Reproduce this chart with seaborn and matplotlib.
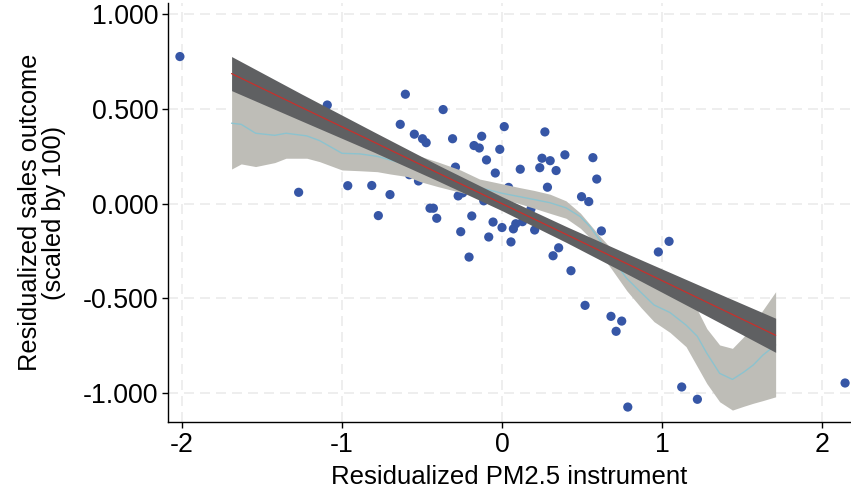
import numpy as np
import pandas as pd
import matplotlib
matplotlib.use("Agg")
import matplotlib.pyplot as plt
import seaborn as sns

# Residualized instrument (x) and residualized sales (y), one point per unit
pm25_resid = [
    -2.013, -1.092, -1.271, -0.964, -0.814, -0.700, -0.773, -0.604, -0.636, -0.548,
    -0.497, -0.474, -0.368, -0.309, -0.175, -0.142, -0.127, -0.097, -0.014, 0.014,
    -0.042, -0.291, -0.274, -0.246, -0.114, -0.579, -0.522, -0.450, -0.429, -0.408,
    -0.189, -0.056, -0.258, 0.000, -0.083, -0.206, 0.056, 0.268, 0.250, 0.301,
    0.393, 0.568, 0.114, 0.236, 0.338, 0.592, 0.284, 0.497, 0.542, 0.041,
    0.086, 0.071, 0.128, 0.204, 0.319, 0.354, 0.621, 0.977, 1.044, 0.431,
    0.519, 0.681, 0.748, 0.713, 1.123, 1.221, 0.786, 2.144, 0.181,
]
sales_resid = [
    0.777, 0.521, 0.060, 0.095, 0.096, 0.048, -0.063, 0.578, 0.419, 0.367,
    0.343, 0.322, 0.497, 0.343, 0.307, 0.294, 0.356, 0.231, 0.287, 0.407,
    0.162, 0.193, 0.041, 0.057, 0.015, 0.153, 0.120, -0.024, -0.024, -0.077,
    -0.065, -0.097, -0.148, -0.126, -0.176, -0.282, -0.202, 0.379, 0.240, 0.227,
    0.258, 0.243, 0.182, 0.190, 0.175, 0.130, 0.087, 0.037, 0.011, 0.086,
    -0.106, -0.133, -0.095, -0.139, -0.275, -0.233, -0.144, -0.255, -0.199, -0.354,
    -0.537, -0.595, -0.620, -0.674, -0.968, -1.033, -1.074, -0.947, -0.028,
]

# Local polynomial smooth with its confidence band
lpoly_x = [-1.69, -1.63, -1.54, -1.42, -1.35, -1.22, -1.14, -1.00, -0.89, -0.78,
           -0.70, -0.59, -0.51, -0.40, -0.26, -0.14, 0.00, 0.11, 0.20, 0.30,
           0.40, 0.49, 0.55, 0.61, 0.68, 0.78, 0.87, 0.95, 1.05, 1.15,
           1.22, 1.28, 1.36, 1.44, 1.51, 1.57, 1.63, 1.71]
lpoly_fit = [0.425, 0.419, 0.372, 0.361, 0.372, 0.358, 0.333, 0.266, 0.263, 0.250,
             0.231, 0.205, 0.190, 0.165, 0.135, 0.085, 0.055, 0.037, 0.022, 0.005,
             -0.022, -0.069, -0.121, -0.192, -0.280, -0.395, -0.470, -0.535, -0.575, -0.641,
             -0.700, -0.790, -0.896, -0.928, -0.890, -0.852, -0.800, -0.746]
lpoly_lo = [0.183, 0.210, 0.196, 0.217, 0.240, 0.240, 0.222, 0.178, 0.174, 0.169,
            0.157, 0.143, 0.116, 0.090, 0.060, 0.037, 0.026, 0.000, -0.024, -0.051,
            -0.077, -0.130, -0.180, -0.260, -0.340, -0.460, -0.550, -0.623, -0.680, -0.755,
            -0.860, -0.950, -1.046, -1.090, -1.070, -1.054, -1.040, -1.020]
lpoly_hi = [0.660, 0.630, 0.570, 0.530, 0.500, 0.470, 0.440, 0.380, 0.350, 0.330,
            0.300, 0.270, 0.250, 0.220, 0.178, 0.130, 0.105, 0.085, 0.070, 0.050,
            0.015, -0.050, -0.110, -0.170, -0.235, -0.310, -0.370, -0.420, -0.460, -0.500,
            -0.560, -0.660, -0.746, -0.764, -0.703, -0.630, -0.562, -0.465]

# Linear fit with its confidence band
lfit_x = [-1.69, -1.25, -0.80, -0.40, 0.00, 0.40, 0.80, 1.25, 1.71]
lfit_y = [0.687, 0.507, 0.325, 0.162, 0.000, -0.162, -0.325, -0.508, -0.695]
lfit_lo = [0.597, 0.436, 0.272, 0.120, -0.037, -0.204, -0.379, -0.579, -0.785]
lfit_hi = [0.777, 0.578, 0.379, 0.204, 0.037, -0.120, -0.271, -0.437, -0.605]

x_ticks = [-2, -1, 0, 1, 2]
y_ticks = [1.0, 0.5, 0.0, -0.5, -1.0]
y_tick_labels = ["1.000", "0.500", "0.000", "-0.500", "-1.000"]

sns.set_theme(style="white")
plt.rcParams["font.family"] = ["Liberation Sans", "DejaVu Sans"]

fig = plt.figure(figsize=(8.51, 4.93), dpi=100)
ax = fig.add_axes([0.1974, 0.144, 0.8026, 0.85])

points = pd.DataFrame({"x": pm25_resid, "y": sales_resid})
sns.scatterplot(data=points, x="x", y="y", ax=ax, color="#3656a6",
                s=44, edgecolor="none", zorder=2)

ax.fill_between(lpoly_x, lpoly_lo, lpoly_hi, color="#bebdb7", lw=0, zorder=3)
sns.lineplot(x=lpoly_x, y=lpoly_fit, ax=ax, color="#8cc3cf", lw=1.0,
             sort=False, zorder=4)

ax.fill_between(lfit_x, lfit_lo, lfit_hi, color="#5f6062", lw=0, zorder=5)
sns.lineplot(x=lfit_x, y=lfit_y, ax=ax, color="#c8302c", lw=0.9,
             sort=False, zorder=6)

ax.set_xlim(-2.0875, 2.181)
ax.set_ylim(-1.153, 1.060)
ax.set_xticks(x_ticks)
ax.set_xticklabels([str(t) for t in x_ticks])
ax.set_yticks(y_ticks)
ax.set_yticklabels(y_tick_labels)

ax.grid(True, color="#ebebeb", lw=1.2, linestyle=(0, (6, 3.6)), zorder=0)
ax.set_axisbelow(True)

for side in ["top", "right"]:
    ax.spines[side].set_visible(False)
for side in ["left", "bottom"]:
    ax.spines[side].set_color("black")
    ax.spines[side].set_linewidth(1.0)

ax.tick_params(axis="both", which="major", direction="out", length=4,
               width=1.0, color="black", labelsize=19.3, labelcolor="black",
               left=True, bottom=True, pad=3)

ax.set_xlabel("Residualized PM2.5 instrument", fontsize=18.5, color="black", labelpad=5)
ax.set_ylabel("Residualized sales outcome\n(scaled by 100)", fontsize=18.3,
              color="black", labelpad=12, linespacing=1.0)

fig.savefig("out.png", dpi=100)
